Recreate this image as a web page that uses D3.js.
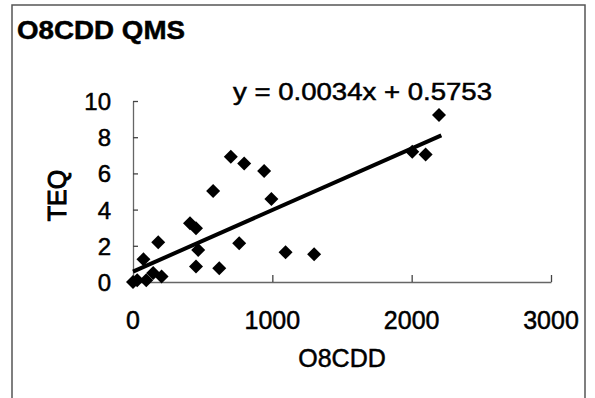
<!DOCTYPE html>
<html>
<head>
<meta charset="utf-8">
<script src="https://cdn.jsdelivr.net/npm/d3@7"></script>
<style>
  body { margin: 0; background: #fff; }
  text { font-family: "Liberation Sans", Arial, sans-serif; fill: #000; stroke: #000; stroke-width: 0.5px; }
</style>
</head>
<body>
<div id="chart"></div>
<script>
// O8CDD vs TEQ values
const o8cdd = [0, 30, 95, 75, 145, 205, 181, 409, 452, 468, 452, 619, 575, 702, 798, 941, 993, 762, 1095, 1300, 2004, 2100, 2196];
const teq   = [0, 0.1, 0.1, 1.25, 0.5, 0.3, 2.2, 3.24, 2.97, 1.77, 0.85, 0.76, 5.03, 6.92, 6.55, 6.13, 4.59, 2.14, 1.64, 1.53, 7.2, 7.05, 9.23];
const xTicks = [0, 1000, 2000, 3000];
const yTicks = [0, 2, 4, 6, 8, 10];
const slope = 0.0034, intercept = 0.5753;
const fitRange = [0, 2213];

const width = 595, height = 398;
const margin = {top: 101, right: 44, bottom: 116, left: 133};

const svg = d3.select("#chart").append("svg")
  .attr("width", width)
  .attr("height", height);

// outer frame
svg.append("rect")
  .attr("x", 12).attr("y", 5)
  .attr("width", 573).attr("height", 400)
  .attr("fill", "none")
  .attr("stroke", "#555")
  .attr("stroke-width", 1.5);

const x = d3.scaleLinear().domain([0, 3000]).range([margin.left, width - margin.right]);
const y = d3.scaleLinear().domain([0, 10]).range([height - margin.bottom, margin.top]);

// x axis
const xAxis = svg.append("g")
  .attr("transform", `translate(0,${y(0)})`)
  .call(d3.axisTop(x).tickValues(xTicks).tickSize(7).tickSizeOuter(0).tickFormat(""));
xAxis.select(".domain").attr("stroke", "#666").attr("stroke-width", 1.3);
xAxis.selectAll(".tick line").attr("stroke", "#444").attr("stroke-width", 1.3);

svg.append("g").selectAll("text")
  .data(xTicks)
  .join("text")
  .attr("x", d => x(d))
  .attr("y", y(0) + 47)
  .attr("text-anchor", "middle")
  .style("font-size", "25px")
  .text(d => d);

// y axis
const yAxis = svg.append("g")
  .attr("transform", `translate(${x(0)},0)`)
  .call(d3.axisRight(y).tickValues(yTicks).tickSize(5).tickSizeOuter(0).tickFormat(""));
yAxis.select(".domain").attr("stroke", "#666").attr("stroke-width", 1.3);
yAxis.selectAll(".tick line").attr("stroke", "#444").attr("stroke-width", 1.3);

svg.append("g").selectAll("text")
  .data(yTicks)
  .join("text")
  .attr("x", x(0) - 22)
  .attr("y", d => y(d) + 9)
  .attr("text-anchor", "end")
  .style("font-size", "24px")
  .text(d => d);

// titles
svg.append("text")
  .attr("x", 17).attr("y", 39)
  .attr("textLength", 168).attr("lengthAdjust", "spacingAndGlyphs")
  .style("font-size", "26px").style("font-weight", "bold")
  .text("O8CDD QMS");

svg.append("text")
  .attr("x", (x(0) + x(3000)) / 2)
  .attr("y", 367)
  .attr("text-anchor", "middle")
  .style("font-size", "25px")
  .text("O8CDD");

svg.append("text")
  .attr("transform", `translate(66,${(y(0) + y(10)) / 2 + 4}) rotate(-90)`)
  .attr("text-anchor", "middle")
  .style("font-size", "25px")
  .style("stroke-width", "1px")
  .text("TEQ");

// regression line
svg.append("line")
  .attr("x1", x(fitRange[0])).attr("y1", y(slope * fitRange[0] + intercept))
  .attr("x2", x(fitRange[1])).attr("y2", y(slope * fitRange[1] + intercept))
  .attr("stroke", "#000")
  .attr("stroke-width", 4);

svg.append("text")
  .attr("x", 233).attr("y", 100)
  .attr("textLength", 259).attr("lengthAdjust", "spacingAndGlyphs")
  .style("font-size", "24px")
  .text("y = 0.0034x + 0.5753");

// points
const diamond = d3.symbol().type(d3.symbolSquare).size(98);
svg.append("g").selectAll("path")
  .data(o8cdd.map((d, i) => ({x: d, y: teq[i]})))
  .join("path")
  .attr("d", diamond)
  .attr("transform", d => `translate(${x(d.x)},${y(d.y)}) rotate(45)`)
  .attr("fill", "#000");
</script>
</body>
</html>
